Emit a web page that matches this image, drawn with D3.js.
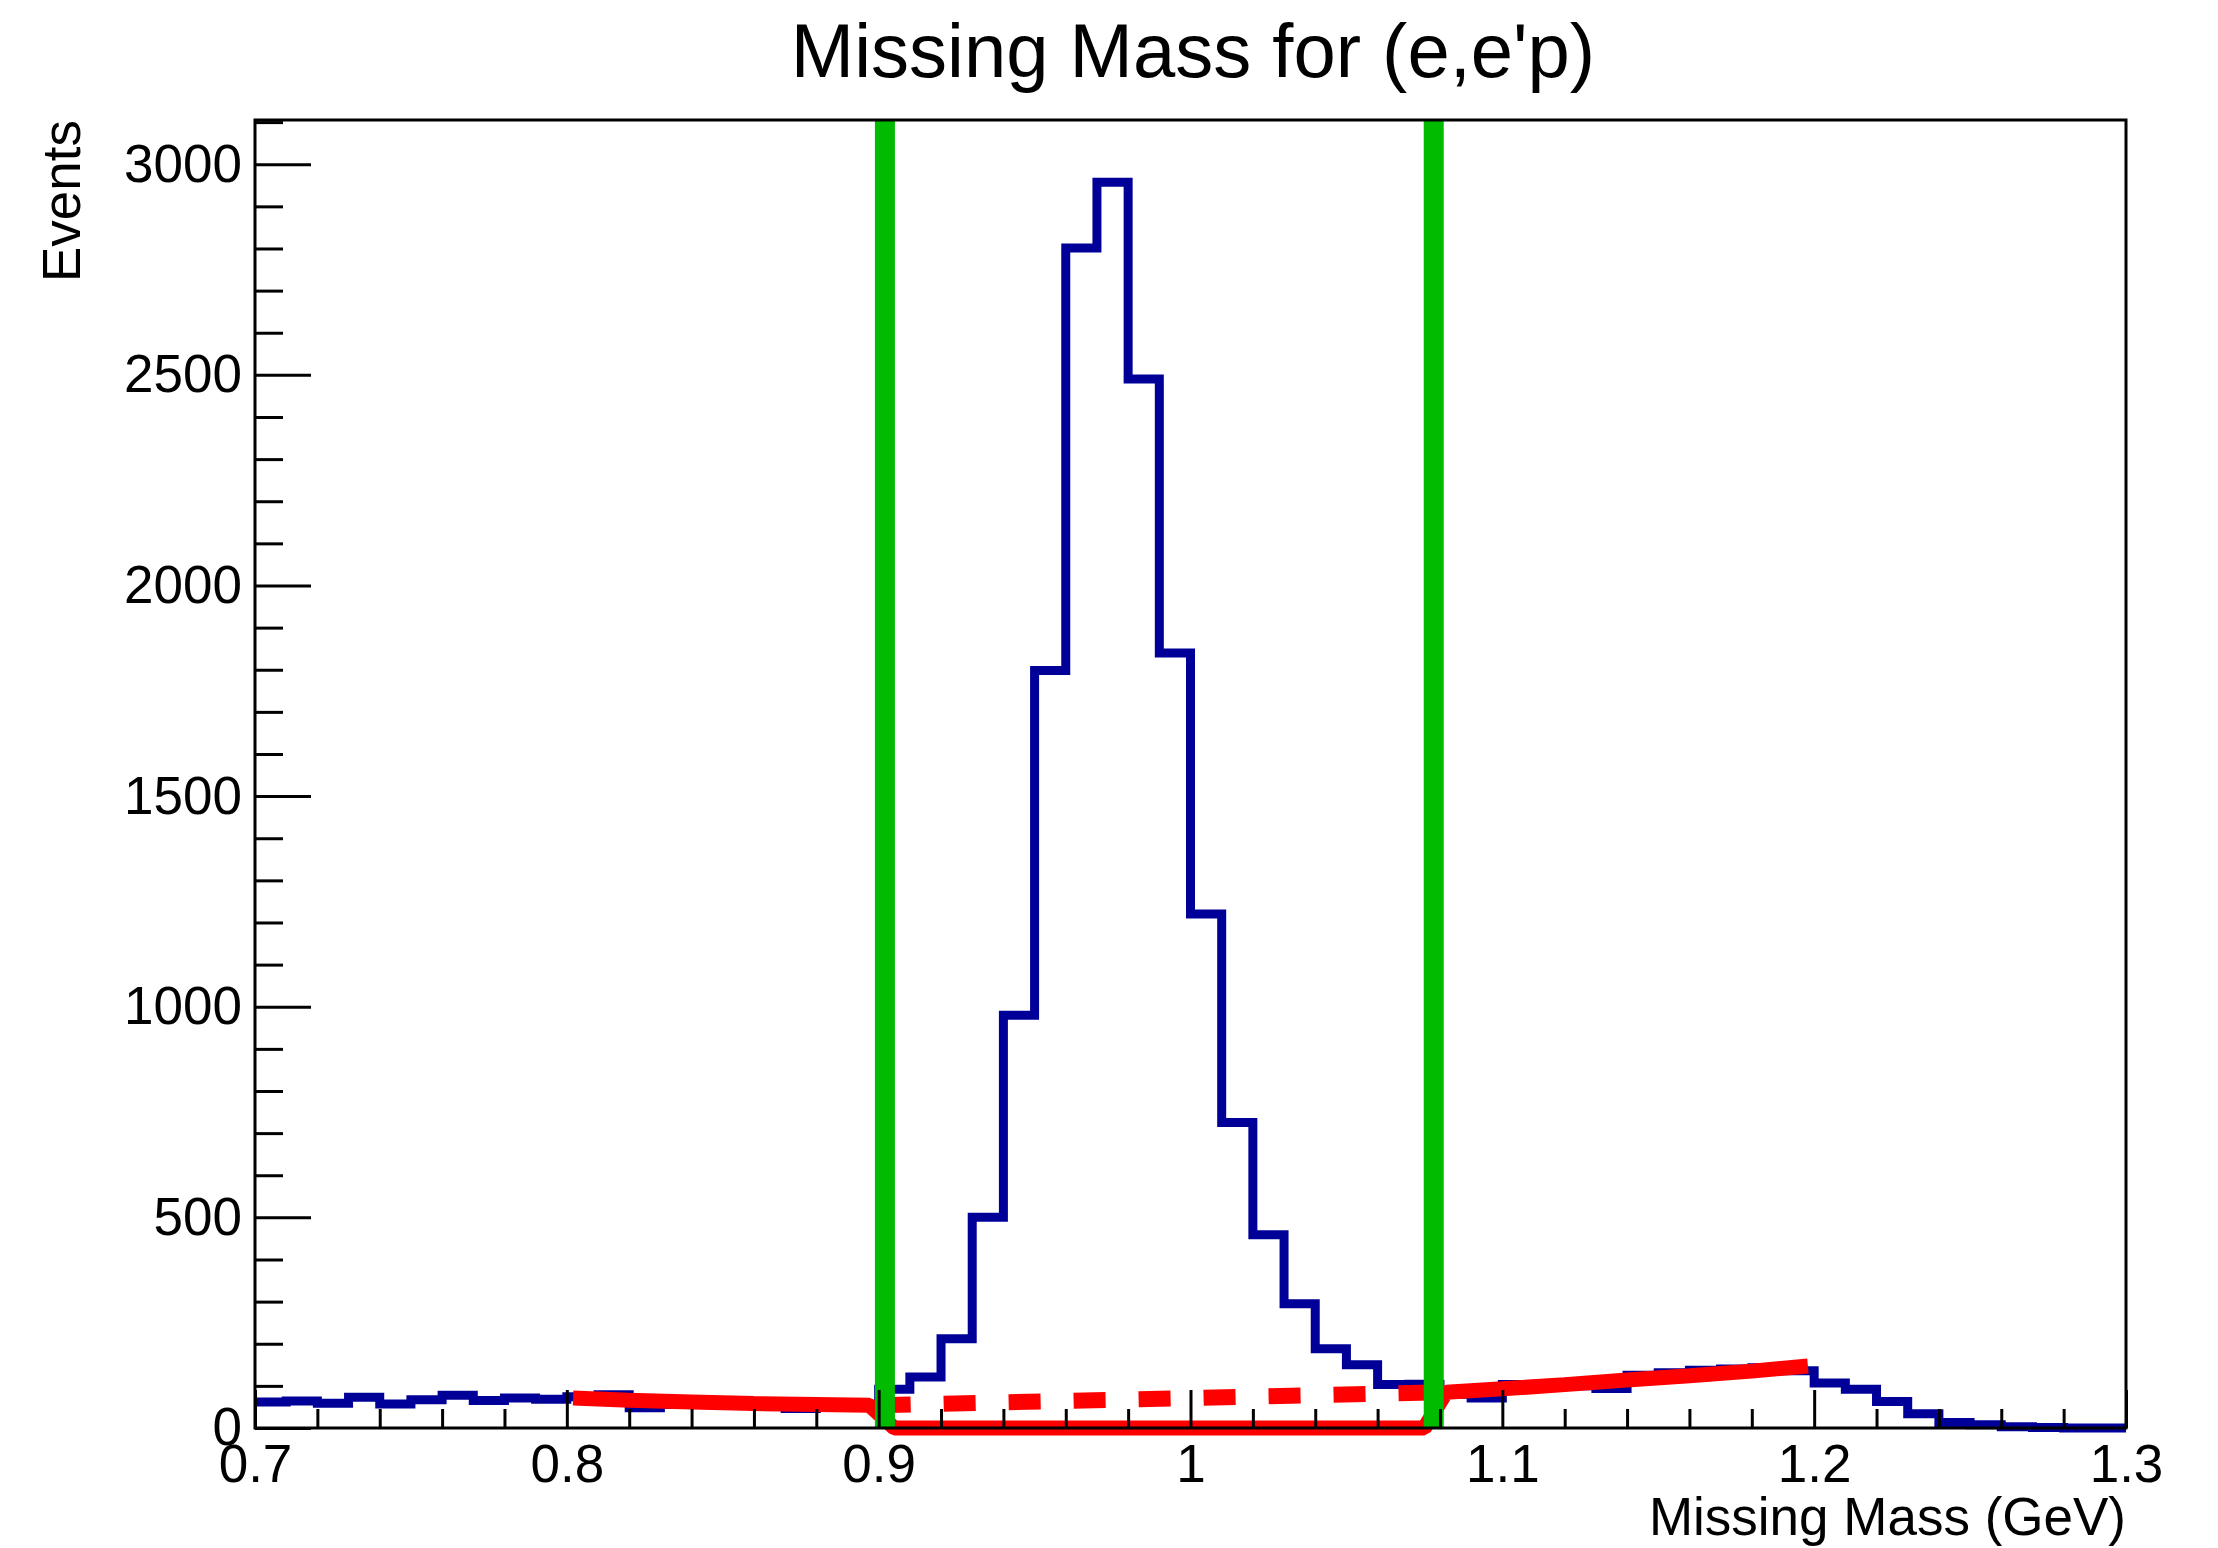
<!DOCTYPE html>
<html>
<head>
<meta charset="utf-8">
<script src="https://cdn.jsdelivr.net/npm/d3@7"></script>
<style>
  body { margin: 0; background: #fff; }
  text { font-family: "Liberation Sans", Arial, sans-serif; fill: #000; }
</style>
</head>
<body>
<div id="chart"></div>
<script>
// histogram: 60 bins of 0.01 GeV from 0.70 to 1.30
const binStart = 0.70, binWidth = 0.01;
const counts = [
  62, 64, 59, 73, 57, 67, 78, 65, 71, 68,
  74, 79, 48, 56, 60, 57, 52, 46, 60, 55,
  92, 121, 212, 500, 980, 1798, 2801, 2957, 2490, 1840,
  1220, 725, 459, 295, 188, 150, 103, 104, 80, 71,
  103, 102, 100, 94, 125, 131, 137, 140, 143, 136,
  107, 92, 63, 34, 13, 8, 3, 1, 0, 0
];

// sideband fit (drawn as zero inside the rejected window)
const fitX = [0.802, 0.82, 0.84, 0.86, 0.88, 0.897, 0.905, 1.075, 1.082, 1.10, 1.12, 1.14, 1.16, 1.18, 1.198];
const fitY = [71, 66, 62, 58, 56, 54, 0, 0, 85, 93, 103, 114, 124, 135, 147];

// background under the peak (dashed)
const bgX = [0.90, 1.08];
const bgY = [54, 85];

// cut positions (green)
const cuts = [0.902, 1.078];

const xTicks = [0.7, 0.8, 0.9, 1.0, 1.1, 1.2, 1.3];
const xTickLabels = ["0.7", "0.8", "0.9", "1", "1.1", "1.2", "1.3"];
const yTicks = [0, 500, 1000, 1500, 2000, 2500, 3000];

const W = 2218, H = 1548;
const margin = {top: 120, right: 92, bottom: 120, left: 255};

const svg = d3.select("#chart")
  .append("svg")
  .attr("width", W)
  .attr("height", H);

const x = d3.scaleLinear()
  .domain([0.7, 1.3])
  .range([margin.left, W - margin.right]);

const y = d3.scaleLinear()
  .domain([0, 3105])
  .range([H - margin.bottom, margin.top]);

// histogram as a step line
const histPts = counts.map((c, i) => [binStart + i * binWidth, c]);
histPts.push([binStart + counts.length * binWidth, counts[counts.length - 1]]);

svg.append("path")
  .datum(histPts)
  .attr("fill", "none")
  .attr("stroke", "#000099")
  .attr("stroke-width", 9)
  .attr("d", d3.line()
    .x(d => x(d[0]))
    .y(d => y(d[1]))
    .curve(d3.curveStepAfter));

// fit curve
svg.append("path")
  .datum(fitX.map((v, i) => [v, fitY[i]]))
  .attr("fill", "none")
  .attr("stroke", "#ff0000")
  .attr("stroke-width", 15)
  .attr("stroke-linejoin", "bevel")
  .attr("d", d3.line().x(d => x(d[0])).y(d => y(d[1])));

// dashed background
svg.append("path")
  .datum(bgX.map((v, i) => [v, bgY[i]]))
  .attr("fill", "none")
  .attr("stroke", "#ff0000")
  .attr("stroke-width", 16)
  .attr("stroke-dasharray", "32,33")
  .attr("d", d3.line().x(d => x(d[0])).y(d => y(d[1])));

// cut lines
svg.selectAll(".cut")
  .data(cuts)
  .enter()
  .append("line")
  .attr("class", "cut")
  .attr("x1", d => x(d))
  .attr("x2", d => x(d))
  .attr("y1", y.range()[1])
  .attr("y2", y.range()[0])
  .attr("stroke", "#00bb00")
  .attr("stroke-width", 20);

// axes (ticks point inward)
svg.append("g")
  .attr("transform", "translate(0," + y(0) + ")")
  .call(d3.axisBottom(x)
    .tickValues(xTicks)
    .tickFormat((d, i) => xTickLabels[i])
    .tickSize(-38)
    .tickPadding(16));

svg.append("g")
  .attr("transform", "translate(0," + y(0) + ")")
  .call(d3.axisBottom(x)
    .tickValues(d3.range(0.72, 1.3, 0.02).map(v => +v.toFixed(2)).filter(v => Math.abs(v * 10 - Math.round(v * 10)) > 1e-6))
    .tickFormat("")
    .tickSize(-19));

svg.append("g")
  .attr("transform", "translate(" + x(0.7) + ",0)")
  .call(d3.axisLeft(y)
    .tickValues(yTicks)
    .tickFormat(d3.format("d"))
    .tickSize(-56)
    .tickPadding(13));

svg.append("g")
  .attr("transform", "translate(" + x(0.7) + ",0)")
  .call(d3.axisLeft(y)
    .tickValues(d3.range(100, 3105, 100).filter(v => v % 500 !== 0))
    .tickFormat("")
    .tickSize(-28));

svg.selectAll(".domain").remove();
svg.selectAll(".tick line").attr("stroke", "#000").attr("stroke-width", 3);
svg.selectAll(".tick text").style("font-size", "53px").attr("fill", "#000");

// frame
svg.append("rect")
  .attr("x", x(0.7))
  .attr("y", y(3105))
  .attr("width", x(1.3) - x(0.7))
  .attr("height", y(0) - y(3105))
  .attr("fill", "none")
  .attr("stroke", "#000")
  .attr("stroke-width", 3);

// titles
svg.append("text")
  .attr("x", 1193)
  .attr("y", 77)
  .attr("text-anchor", "middle")
  .style("font-size", "76px")
  .text("Missing Mass for (e,e'p)");

svg.append("text")
  .attr("x", x(1.3))
  .attr("y", 1535)
  .attr("text-anchor", "end")
  .style("font-size", "53px")
  .text("Missing Mass (GeV)");

svg.append("text")
  .attr("transform", "translate(80," + y(3105) + ") rotate(-90)")
  .attr("text-anchor", "end")
  .style("font-size", "53px")
  .text("Events");
</script>
</body>
</html>
